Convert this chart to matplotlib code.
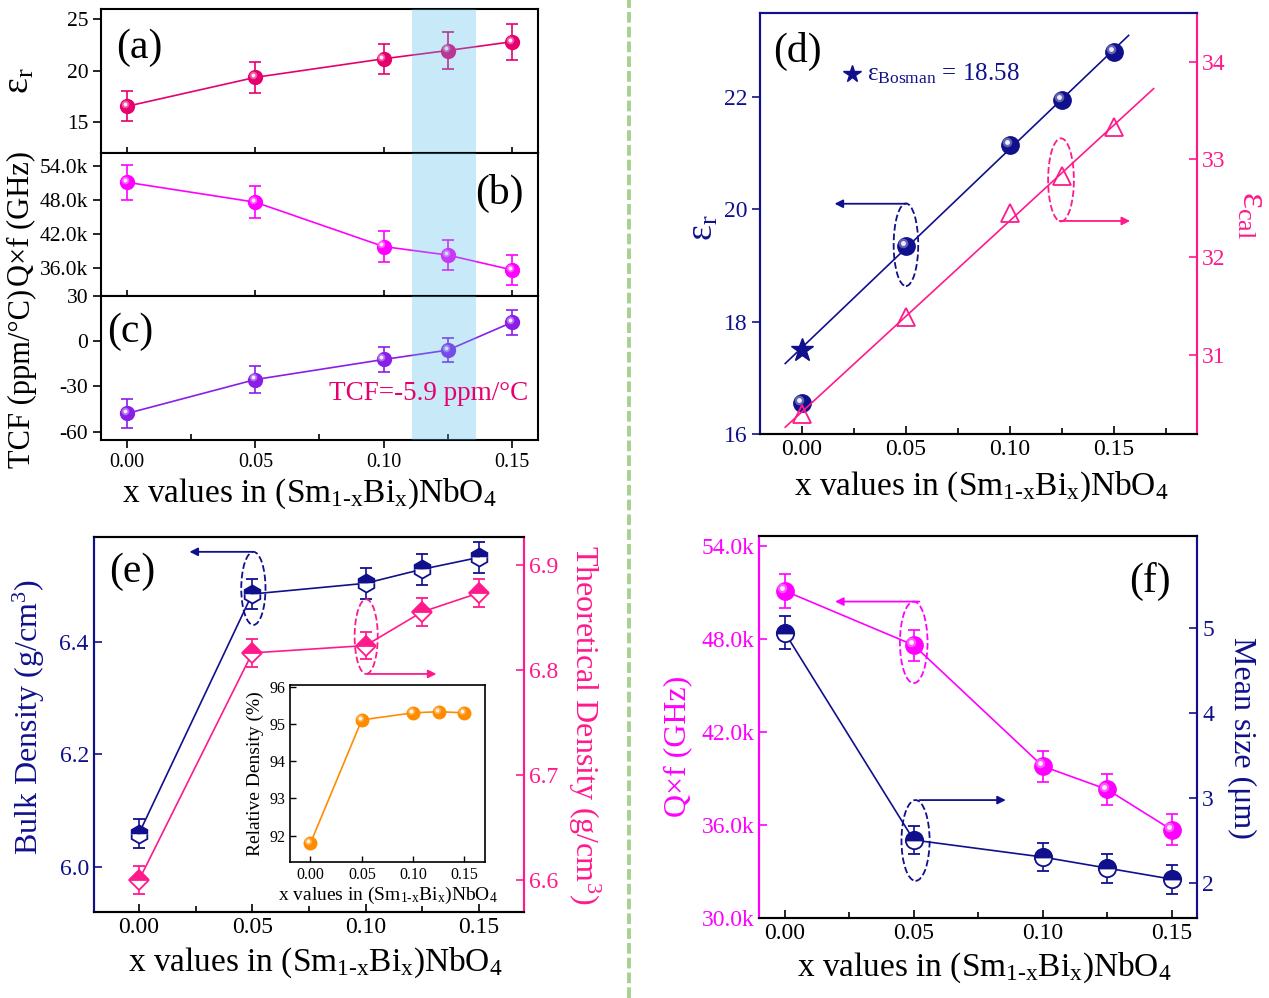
import numpy as np
import matplotlib
matplotlib.use('Agg')
import matplotlib.pyplot as plt
from matplotlib.patches import Ellipse
from matplotlib.ticker import FuncFormatter, MultipleLocator
from matplotlib.transforms import offset_copy
from matplotlib.lines import Line2D

plt.rcParams['font.family'] = ['Liberation Serif', 'DejaVu Serif']
plt.rcParams['mathtext.fontset'] = 'custom'
plt.rcParams['mathtext.rm'] = 'Liberation Serif'
plt.rcParams['mathtext.it'] = 'Liberation Serif:italic'
plt.rcParams['mathtext.bf'] = 'Liberation Serif:bold'
plt.rcParams['axes.unicode_minus'] = False
plt.rcParams['axes.linewidth'] = 1.5

# x values shared by all panels
x = [0.0, 0.05, 0.10, 0.125, 0.15]

# (a) dielectric constant
eps_r = [16.55, 19.35, 21.15, 21.95, 22.8]
eps_r_err = [1.45, 1.5, 1.45, 1.8, 1.75]
# (b) / (f) Q x f
qf = [51100, 47600, 39800, 38300, 35700]
qf_err_b = [3100, 2800, 2750, 2650, 2650]
qf_err_f = [1100, 1000, 1000, 1000, 1000]
# (c) TCF
tcf = [-47.9, -25.4, -12.1, -5.9, 12.5]
tcf_err = [9.9, 9.0, 8.5, 8.0, 8.5]
# (d) Bosman value and calculated permittivity
eps_bosman = 17.49
eps_cal = [30.40, 31.39, 32.45, 32.83, 33.33]
# (e) densities
bulk = [6.059, 6.485, 6.504, 6.529, 6.55]
bulk_err = [0.025, 0.026, 0.027, 0.028, 0.027]
theo = [6.600, 6.816, 6.823, 6.855, 6.873]
theo_err = [0.013, 0.013, 0.013, 0.013, 0.013]
rel_density = [91.80, 95.11, 95.30, 95.33, 95.30]
# (f) grain size
mean_size = [4.95, 2.51, 2.31, 2.18, 2.05]
mean_size_err = [0.19, 0.17, 0.17, 0.17, 0.17]

c_a = '#e6006e'
c_b = '#ff00ff'
c_c = '#8a1ee6'
navy = '#10108c'
pink = '#ff1a8c'
orange = '#ff8c00'
span_c = '#4bb9eb'

XLAB = 'x values in (Sm$_{\\mathrm{1\\text{-}x}}$Bi$_{\\mathrm{x}}$)NbO$_{4}$'
TICK = 14.5
TICK2 = 17

fig = plt.figure(figsize=(12.69, 9.98), dpi=100)


def spheres(ax, xs, ys, color, ms, z=5):
    ax.plot(xs, ys, 'o', ms=ms, color=color, mec=color, ls='none', zorder=z)
    hl = offset_copy(ax.transData, fig=fig, x=-ms * 0.16, y=ms * 0.16, units='points')
    ax.plot(xs, ys, 'o', ms=ms * 0.55, color='white', mec='none', alpha=0.35,
            ls='none', transform=hl, zorder=z + 0.1)
    ax.plot(xs, ys, 'o', ms=ms * 0.28, color='white', mec='none', alpha=0.9,
            ls='none', transform=hl, zorder=z + 0.2)


def ebar(ax, xs, ys, err, color, **kw):
    ax.errorbar(xs, ys, yerr=err, color=color, lw=1.2, elinewidth=1.2,
                capsize=4.5, capthick=1.2, zorder=4, **kw)


def dashed_ellipse(ax, cx, cy, w, h, color):
    ax.add_patch(Ellipse((cx, cy), w, h, fill=False, ec=color, ls='--', lw=1.3, zorder=6))


def arrow(ax, start, end, color):
    ax.annotate('', xy=end, xytext=start,
                arrowprops=dict(arrowstyle='-|>', color=color, lw=1.3,
                                mutation_scale=12, shrinkA=0, shrinkB=0))


# ---------------- (a), (b), (c) ----------------
ax_a = fig.add_axes([0.0799, 0.8464, 0.3437, 0.1449])
ax_b = fig.add_axes([0.0799, 0.7034, 0.3437, 0.1430])
ax_c = fig.add_axes([0.0799, 0.5591, 0.3437, 0.1443])

ebar(ax_a, x, eps_r, eps_r_err, c_a)
spheres(ax_a, x, eps_r, c_a, 10)
ax_a.set_ylim(12, 26)
ax_a.set_yticks([15, 20, 25])

ebar(ax_b, x, qf, qf_err_b, c_b)
spheres(ax_b, x, qf, c_b, 10)
ax_b.set_ylim(31100, 56200)
ax_b.set_yticks([36000, 42000, 48000, 54000])
ax_b.yaxis.set_major_formatter(FuncFormatter(lambda v, p: f'{v / 1000:.1f}k'))

ebar(ax_c, x, tcf, tcf_err, c_c)
spheres(ax_c, x, tcf, c_c, 10)
ax_c.set_ylim(-65.5, 30)
ax_c.set_yticks([-60, -30, 0, 30])

for ax in (ax_a, ax_b, ax_c):
    ax.axvspan(0.111, 0.136, color=span_c, alpha=0.3, lw=0, zorder=10)
    ax.set_xlim(-0.01, 0.16)
    ax.set_xticks([0, 0.05, 0.10, 0.15])
    ax.tick_params(axis='y', direction='out', length=6, width=1.2, labelsize=15.5)
    ax.tick_params(axis='x', direction='inout', length=9, width=1.2, labelsize=TICK)
ax_a.tick_params(axis='x', labelbottom=False)
ax_b.tick_params(axis='x', labelbottom=False)
ax_c.tick_params(axis='x', direction='out', length=6)
ax_c.xaxis.set_minor_locator(MultipleLocator(0.025))
ax_c.tick_params(axis='x', which='minor', direction='in', length=4, width=1.2)
ax_c.xaxis.set_major_formatter(FuncFormatter(lambda v, p: f'{v:.2f}'))

ax_a.set_ylabel('ε$_{\\mathrm{r}}$', fontsize=27)
ax_a.yaxis.set_label_coords(-0.187, 0.5)
ax_b.set_ylabel('Q×f (GHz)', fontsize=22)
ax_b.yaxis.set_label_coords(-0.184, 0.54)
ax_c.set_ylabel('TCF (ppm/°C)', fontsize=22)
ax_c.yaxis.set_label_coords(-0.182, 0.43)
ax_c.set_xlabel(XLAB, fontsize=24)
ax_c.xaxis.set_label_coords(0.477, -0.37)
for ax in (ax_a, ax_b, ax_c):
    ax.yaxis.label.set_va('center')
ax_c.xaxis.label.set_va('center')

ax_a.text(0.033, 0.73, '(a)', transform=ax_a.transAxes, fontsize=30, va='center', ha='left')
ax_b.text(0.969, 0.72, '(b)', transform=ax_b.transAxes, fontsize=30, va='center', ha='right')
ax_c.text(0.013, 0.75, '(c)', transform=ax_c.transAxes, fontsize=30, va='center', ha='left')
ax_c.text(0.978, 0.326, 'TCF=-5.9 ppm/°C', transform=ax_c.transAxes, fontsize=19.5,
          color=c_a, va='center', ha='right', zorder=12)

# ---------------- (d) ----------------
ax_d = fig.add_axes([0.5991, 0.5651, 0.3444, 0.4221])
ax_d2 = ax_d.twinx()

fit_y = [eps_bosman] + eps_r[1:]
coef = np.polyfit(x, fit_y, 1)
xf = np.array([-0.008, 0.157])
ax_d.plot(xf, np.polyval(coef, xf), color=navy, lw=1.2, zorder=3)
spheres(ax_d, x, eps_r, navy, 12.5)
ax_d.plot([0], [eps_bosman], '*', ms=17, color=navy, zorder=6)

coef2 = np.polyfit(x, eps_cal, 1)
xf2 = np.array([-0.008, 0.169])
ax_d2.plot(xf2, np.polyval(coef2, xf2), color=pink, lw=1.2)
ax_d2.plot(x, eps_cal, '^', ms=13, mfc='none', mec=pink, mew=1.3, ls='none')

ax_d.set_xlim(-0.02, 0.19)
ax_d.set_ylim(16, 23.5)
ax_d2.set_ylim(30.19, 34.5)
ax_d.set_xticks([0, 0.05, 0.10, 0.15])
ax_d.xaxis.set_minor_locator(MultipleLocator(0.025))
ax_d.xaxis.set_major_formatter(FuncFormatter(lambda v, p: f'{v:.2f}'))
ax_d.set_yticks([16, 18, 20, 22])
ax_d2.set_yticks([31, 32, 33, 34])
ax_d.tick_params(axis='x', which='both', direction='in', width=1.2, labelsize=TICK2)
ax_d.tick_params(axis='x', which='major', length=6)
ax_d.tick_params(axis='x', which='minor', length=4)
ax_d.tick_params(axis='y', direction='out', length=6, width=1.2, labelsize=TICK2,
                 colors=navy)
ax_d2.tick_params(axis='y', direction='in', length=6, width=1.2, labelsize=TICK2,
                  colors=pink)
for a in (ax_d, ax_d2):
    a.spines['left'].set_color(navy)
    a.spines['right'].set_color(pink)
    a.spines['top'].set_color(navy)

dashed_ellipse(ax_d, 0.05, 19.37, 0.0118, 1.47, navy)
arrow(ax_d, (0.05, 20.10), (0.0157, 20.10), navy)
dashed_ellipse(ax_d2, 0.1245, 32.79, 0.0124, 0.85, pink)
arrow(ax_d2, (0.1238, 32.37), (0.1577, 32.37), pink)

ax_d.plot([0.21], [0.855], '*', ms=13, color=navy, transform=ax_d.transAxes)
ax_d.text(0.245, 0.855, 'ε$_{\\mathrm{Bosman}}$ = 18.58', transform=ax_d.transAxes,
          fontsize=18, color=navy, va='center', ha='left')
ax_d.text(0.029, 0.908, '(d)', transform=ax_d.transAxes, fontsize=30, va='center', ha='left')

ax_d.set_ylabel('ε$_{\\mathrm{r}}$', fontsize=27, color=navy)
ax_d.yaxis.set_label_coords(-0.131, 0.489)
ax_d.yaxis.label.set_va('center')
ax_d2.set_ylabel('ε$_{\\mathrm{cal}}$', fontsize=27, color=pink, rotation=270)
ax_d2.yaxis.set_label_coords(1.125, 0.52)
ax_d2.yaxis.label.set_va('center')
ax_d.set_xlabel(XLAB, fontsize=24)
ax_d.xaxis.set_label_coords(0.507, -0.126)
ax_d.xaxis.label.set_va('center')

# ---------------- (e) ----------------
ax_e = fig.add_axes([0.0738, 0.0865, 0.3392, 0.3752])
ax_e2 = ax_e.twinx()

ebar(ax_e, x, bulk, bulk_err, navy, marker='h', ms=13, fillstyle='top', mfc=navy,
     mfcalt='white', mec=navy, mew=1.3)
ebar(ax_e2, x, theo, theo_err, pink, marker='D', ms=10.5, fillstyle='top', mfc=pink,
     mfcalt='white', mec=pink, mew=1.3)

ax_e.set_xlim(-0.02, 0.17)
ax_e.set_ylim(5.92, 6.586)
ax_e2.set_ylim(6.57, 6.926)
ax_e.set_xticks([0, 0.05, 0.10, 0.15])
ax_e.xaxis.set_minor_locator(MultipleLocator(0.025))
ax_e.xaxis.set_major_formatter(FuncFormatter(lambda v, p: f'{v:.2f}'))
ax_e.set_yticks([6.0, 6.2, 6.4])
ax_e2.set_yticks([6.6, 6.7, 6.8, 6.9])
ax_e.tick_params(axis='x', which='both', direction='in', width=1.2, labelsize=TICK2)
ax_e.tick_params(axis='x', which='major', length=6)
ax_e.tick_params(axis='x', which='minor', length=4)
ax_e.tick_params(axis='y', direction='in', length=6, width=1.2, labelsize=TICK2, colors=navy)
ax_e2.tick_params(axis='y', direction='in', length=6, width=1.2, labelsize=TICK2, colors=pink)
for a in (ax_e, ax_e2):
    a.spines['left'].set_color(navy)
    a.spines['right'].set_color(pink)

dashed_ellipse(ax_e, 0.0505, 6.495, 0.0107, 0.13, navy)
arrow(ax_e, (0.05, 6.56), (0.0223, 6.56), navy)
dashed_ellipse(ax_e2, 0.1003, 6.8315, 0.0102, 0.071, pink)
arrow(ax_e2, (0.1009, 6.796), (0.1313, 6.796), pink)

ax_e.text(0.036, 0.907, '(e)', transform=ax_e.transAxes, fontsize=30, va='center', ha='left')
ax_e.set_ylabel('Bulk Density (g/cm$^{3}$)', fontsize=23, color=navy)
ax_e.yaxis.set_label_coords(-0.150, 0.519)
ax_e.yaxis.label.set_va('center')
ax_e2.set_ylabel('Theoretical Density (g/cm$^{3}$)', fontsize=23, color=pink, rotation=270)
ax_e2.yaxis.set_label_coords(1.139, 0.50)
ax_e2.yaxis.label.set_va('center')
ax_e.set_xlabel(XLAB, fontsize=24)
ax_e.xaxis.set_label_coords(0.516, -0.137)
ax_e.xaxis.label.set_va('center')

# inset: relative density
ax_in = fig.add_axes([0.2285, 0.1366, 0.1537, 0.1771])
ax_in.plot(x, rel_density, color=orange, lw=1.2, zorder=3)
spheres(ax_in, x, rel_density, orange, 9)
ax_in.set_xlim(-0.02, 0.17)
ax_in.set_ylim(91.3, 96.05)
ax_in.set_xticks([0, 0.05, 0.10, 0.15])
ax_in.xaxis.set_major_formatter(FuncFormatter(lambda v, p: f'{v:.2f}'))
ax_in.set_yticks([92, 93, 94, 95, 96])
ax_in.tick_params(direction='in', length=4, width=1.0, labelsize=11.5)
for s in ax_in.spines.values():
    s.set_linewidth(1.2)
ax_in.set_ylabel('Relative Density (%)', fontsize=14)
ax_in.set_xlabel(XLAB, fontsize=14, labelpad=2)

# ---------------- (f) ----------------
ax_f = fig.add_axes([0.5981, 0.0799, 0.3455, 0.3834])
ax_f2 = ax_f.twinx()

ebar(ax_f, x, qf, qf_err_f, c_b)
spheres(ax_f, x, qf, c_b, 12.5)
ebar(ax_f2, x, mean_size, mean_size_err, navy, marker='o', ms=12.5, fillstyle='top',
     mfc=navy, mfcalt='white', mec=navy, mew=1.3)

ax_f.set_xlim(-0.01, 0.16)
ax_f.set_ylim(30000, 54660)
ax_f2.set_ylim(1.59, 6.09)
ax_f.set_xticks([0, 0.05, 0.10, 0.15])
ax_f.xaxis.set_minor_locator(MultipleLocator(0.025))
ax_f.xaxis.set_major_formatter(FuncFormatter(lambda v, p: f'{v:.2f}'))
ax_f.set_yticks([30000, 36000, 42000, 48000, 54000])
ax_f.yaxis.set_major_formatter(FuncFormatter(lambda v, p: f'{v / 1000:.1f}k'))
ax_f2.set_yticks([2, 3, 4, 5])
ax_f.tick_params(axis='x', which='both', direction='in', width=1.2, labelsize=TICK2)
ax_f.tick_params(axis='x', which='major', length=6)
ax_f.tick_params(axis='x', which='minor', length=4)
ax_f.tick_params(axis='y', direction='in', length=6, width=1.2, labelsize=TICK2, colors=c_b)
ax_f2.tick_params(axis='y', direction='in', length=6, width=1.2, labelsize=TICK2, colors=navy)
for a in (ax_f, ax_f2):
    a.spines['left'].set_color(c_b)
    a.spines['right'].set_color(navy)

dashed_ellipse(ax_f, 0.050, 47780, 0.0107, 5260, c_b)
arrow(ax_f, (0.0522, 50410), (0.0195, 50410), c_b)
dashed_ellipse(ax_f2, 0.0507, 2.505, 0.0109, 0.95, navy)
arrow(ax_f2, (0.0523, 2.98), (0.0857, 2.98), navy)

ax_f.text(0.94, 0.88, '(f)', transform=ax_f.transAxes, fontsize=30, va='center', ha='right')
ax_f.set_ylabel('Q×f (GHz)', fontsize=23, color=c_b)
ax_f.yaxis.set_label_coords(-0.185, 0.45)
ax_f.yaxis.label.set_va('center')
ax_f2.set_ylabel('Mean size (μm)', fontsize=23, color=navy, rotation=270)
ax_f2.yaxis.set_label_coords(1.10, 0.47)
ax_f2.yaxis.label.set_va('center')
ax_f.set_xlabel(XLAB, fontsize=24)
ax_f.xaxis.set_label_coords(0.515, -0.13)
ax_f.xaxis.label.set_va('center')

# green dashed divider
fig.add_artist(Line2D([629 / 1269, 629 / 1269], [0, 1], transform=fig.transFigure,
                      color='#a9d18e', lw=2.8, ls=(0, (2.75, 1.05))))

fig.savefig('out.png', dpi=100)
